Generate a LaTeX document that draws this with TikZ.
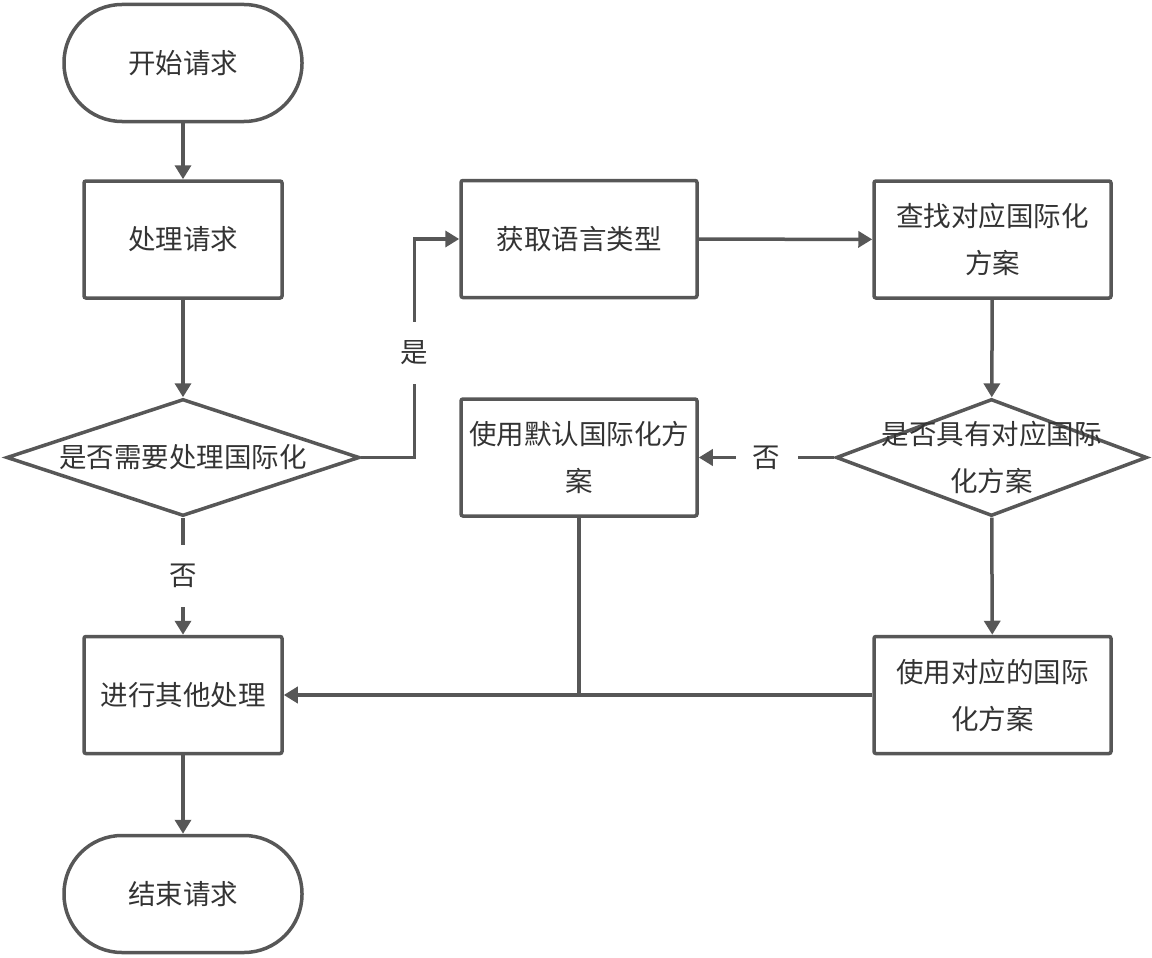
\documentclass[tikz,border=0pt]{standalone}
\usepackage{fontspec}
\newfontfamily\cjk{Noto Sans CJK SC}
\usepackage{tikz}
\usetikzlibrary{shapes.geometric,arrows.meta}
\usetikzlibrary{calc}

\definecolor{linegray}{HTML}{575757}
\definecolor{textgray}{HTML}{333333}

\begin{document}
\begin{tikzpicture}[x=1pt, y=-1pt,
        every node/.style={font=\cjk\fontsize{27.5pt}{47pt}\selectfont, text=textgray},
        term/.style={draw=linegray, line width=3.5pt, rectangle, rounded corners=58pt, minimum width=238pt, minimum height=117pt, inner sep=0pt},
        proc/.style={draw=linegray, line width=3.5pt, rectangle, rounded corners=2pt, minimum height=117pt, inner sep=0pt, align=center},
        decision/.style={draw=linegray, line width=3.5pt, diamond, minimum height=117pt, inner sep=0pt},
        inside/.style={align=center, inner sep=0pt},
        lbl/.style={fill=white, minimum size=62pt, inner sep=0pt},
        flow/.style={draw=linegray, line width=3.5pt, -{Triangle[length=14pt,width=16pt]}},
        plain/.style={draw=linegray, line width=3.5pt}]

        \useasboundingbox (0,0) rectangle (1152,958);

        \node[term] (start) at (183,63) {开始请求};

        \node[proc, minimum width=198pt] (handle) at (183,239.5) {处理请求};

        \node[decision, minimum width=353pt, label={[inside]center:是否需要处理国际化}] (needi18n) at (183,457.5) {};

        \node[proc, minimum width=198pt] (other) at (183,695) {进行其他处理};

        \node[term] (stop) at (183,894) {结束请求};

        \node[proc, minimum width=236pt] (getlang) at (579,239) {获取语言类型};

        \node[proc, minimum width=237pt] (findplan) at (992.5,239.5) {查找对应国际化\\方案};

        \node[decision, minimum width=311pt, label={[inside]center:是否具有对应国际\\化方案}] (hasplan) at (991.5,457.5) {};

        \node[proc, minimum width=236pt] (default) at (579,457.5) {使用默认国际化方\\案};

        \node[proc, minimum width=237pt] (useplan) at (992.5,695) {使用对应的国际\\化方案};

        \coordinate (join) at (default |- other);

        \draw[flow] (start) -- (handle);

        \draw[flow] (handle) -- (needi18n);

        \draw[flow] (needi18n.east) -- ++(53,0) |- node[pos=0.24, lbl]{是} (getlang.west);

        \draw[flow] (needi18n) -- node[lbl]{否} (other);

        \draw[flow] (getlang) -- (findplan);

        \draw[flow] (findplan) -- (hasplan);

        \draw[flow] (hasplan) -- node[lbl]{否} (default);

        \draw[flow] (hasplan) -- (useplan);

        \draw[flow] (useplan) -- (other);

        \draw[plain] (default) -- (join);

        \draw[flow] (other) -- (stop);

    \end{tikzpicture}
\end{document}
